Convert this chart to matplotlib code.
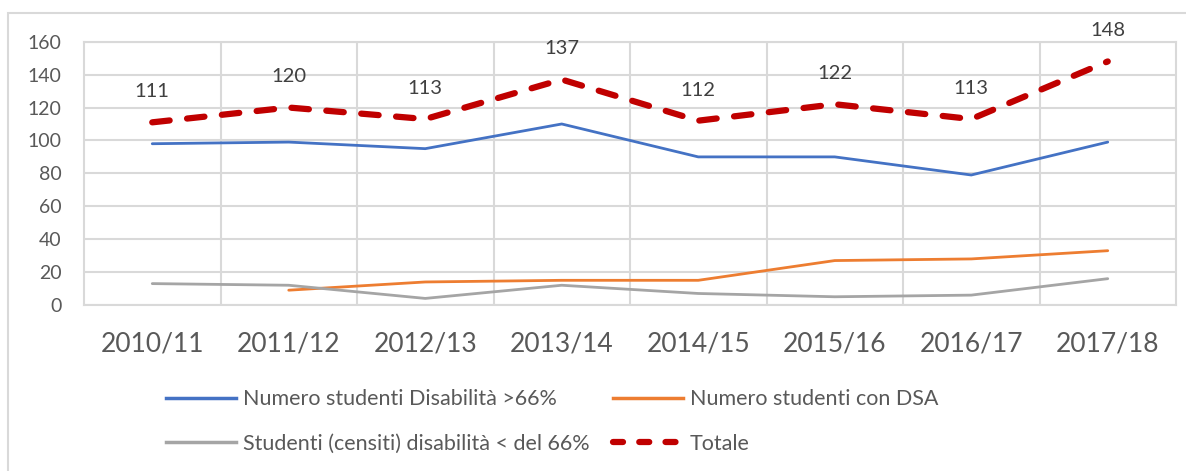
import matplotlib
matplotlib.use("Agg")
import matplotlib.pyplot as plt
from matplotlib.lines import Line2D
from matplotlib.patches import Rectangle

years = ["2010/11", "2011/12", "2012/13", "2013/14", "2014/15", "2015/16", "2016/17", "2017/18"]
disab_66 = [98, 99, 95, 110, 90, 90, 79, 99]
dsa = [None, 9, 14, 15, 15, 27, 28, 33]
censiti = [13, 12, 4, 12, 7, 5, 6, 16]
totale = [111, 120, 113, 137, 112, 122, 113, 148]
yticks = [0, 20, 40, 60, 80, 100, 120, 140, 160]

labels = ["Numero studenti Disabilità >66%", "Numero studenti con DSA",
          "Studenti (censiti) disabilità < del 66%", "Totale"]

plt.rcParams['font.family'] = ['Lato', 'DejaVu Sans']
txt = "#595959"
grid = "#D9D9D9"

fig = plt.figure(figsize=(11.86, 4.71), dpi=100)
fig.patches.append(Rectangle((8/1186, -0.1), 1.2, 1 - 13/471 + 0.1, transform=fig.transFigure,
                             fill=False, edgecolor="#D9D9D9", linewidth=1.5))
ax = fig.add_axes([84/1186, 1 - 305/471, (1176-84)/1186, (305-41.7)/471])

x = list(range(len(years)))
ax.plot(x, disab_66, color="#4472C4", lw=2.0, solid_capstyle="round", zorder=3)
xd = [i for i, v in zip(x, dsa) if v is not None]
yd = [v for v in dsa if v is not None]
ax.plot(xd, yd, color="#ED7D31", lw=2.0, solid_capstyle="round", zorder=3)
ax.plot(x, censiti, color="#A5A5A5", lw=2.0, solid_capstyle="round", zorder=3)
ax.plot(x, totale, color="#C00000", lw=4.5, dashes=(2.8, 2.8), dash_capstyle="round", zorder=4)

for xi, v in zip(x, totale):
    ax.annotate(str(v), (xi, v), xytext=(0, 22), textcoords="offset points",
                ha="center", va="center", fontsize=14.5, color="#404040")

ax.set_xlim(-0.5, len(years) - 0.5)
ax.set_ylim(0, 160)
ax.set_yticks(yticks)
ax.set_xticks(x)
ax.set_xticklabels(years)
ax.set_xticks([i + 0.5 for i in range(len(years) - 1)], minor=True)
ax.tick_params(axis="y", length=0, pad=16, labelsize=14, labelcolor=txt)
ax.tick_params(axis="x", which="major", length=0, pad=19, labelsize=19, labelcolor=txt)
ax.tick_params(axis="x", which="minor", length=0)
ax.grid(axis="y", which="major", color=grid, lw=1.5)
ax.grid(axis="x", which="minor", color=grid, lw=1.5)
ax.grid(axis="x", which="major", visible=False)
for s in ax.spines.values():
    s.set_color(grid)
    s.set_linewidth(1.5)
ax.set_axisbelow(True)

handles = [
    Line2D([], [], color="#4472C4", lw=2.5),
    Line2D([], [], color="#A5A5A5", lw=2.5),
    Line2D([], [], color="#ED7D31", lw=2.5),
    Line2D([], [], color="#C00000", lw=4.5, dashes=(1.6, 2.6), dash_capstyle="round"),
]
leg_labels = [labels[0], labels[2], labels[1], labels[3]]
leg = fig.legend(handles, leg_labels, ncol=2, loc="upper left",
                 bbox_to_anchor=(147/1186, 1 - 370/471), frameon=False,
                 fontsize=15.5, labelcolor=txt, handlelength=3.25, handletextpad=0.3,
                 columnspacing=1.1, labelspacing=1.13)

fig.savefig("out.png", dpi=100)
